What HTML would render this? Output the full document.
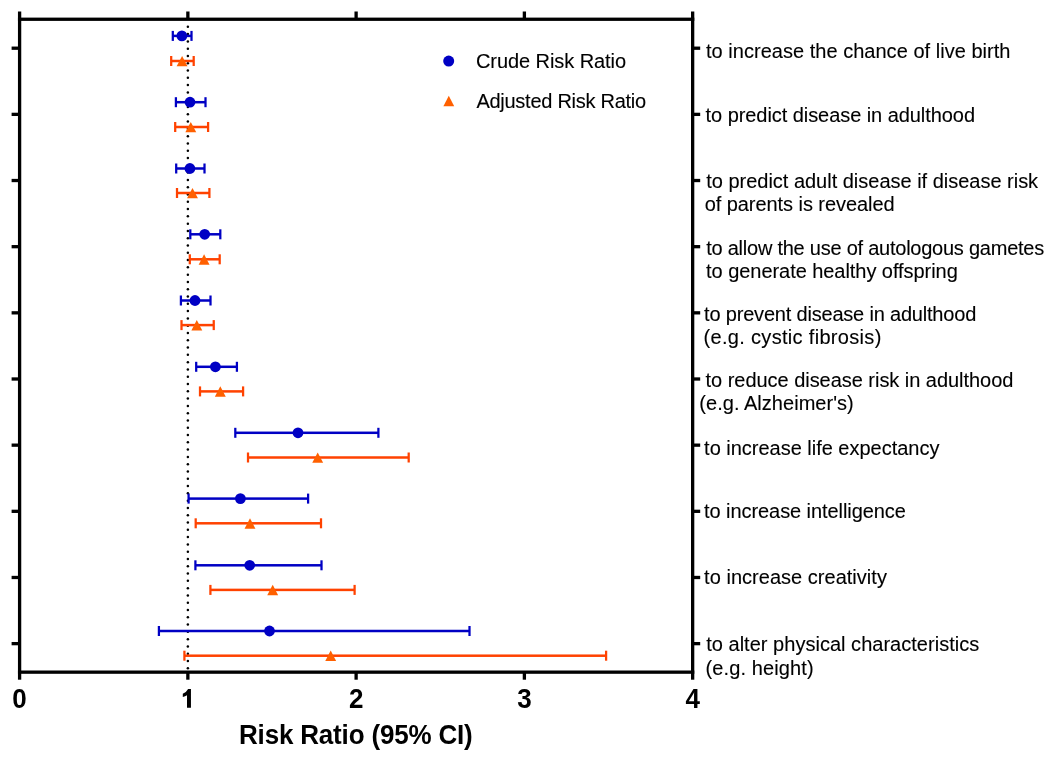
<!DOCTYPE html>
<html><head><meta charset="utf-8"><style>
html,body{margin:0;padding:0;background:#fff;width:1050px;height:760px;overflow:hidden}
svg{display:block;will-change:transform}
text{font-family:"Liberation Sans", sans-serif;stroke:#000;stroke-width:0.12px}
text[font-weight=bold]{stroke-width:0}
</style></head><body>
<svg width="1050" height="760" viewBox="0 0 1050 760"><rect x="17.95" y="11.5" width="3.3" height="668.2" fill="#000"/>
<rect x="691" y="11.5" width="3.3" height="668.2" fill="#000"/>
<rect x="17.95" y="17.6" width="676.35" height="3.3" fill="#000"/>
<rect x="17.95" y="670.5" width="676.35" height="3.3" fill="#000"/>
<rect x="186.21" y="11.5" width="3.3" height="6.5" fill="#000"/>
<rect x="186.21" y="673" width="3.3" height="6.7" fill="#000"/>
<rect x="354.47" y="11.5" width="3.3" height="6.5" fill="#000"/>
<rect x="354.47" y="673" width="3.3" height="6.7" fill="#000"/>
<rect x="522.73" y="11.5" width="3.3" height="6.5" fill="#000"/>
<rect x="522.73" y="673" width="3.3" height="6.7" fill="#000"/>
<rect x="11.6" y="46.55" width="7" height="3.3" fill="#000"/>
<rect x="693" y="46.55" width="7.2" height="3.3" fill="#000"/>
<rect x="11.6" y="112.71" width="7" height="3.3" fill="#000"/>
<rect x="693" y="112.71" width="7.2" height="3.3" fill="#000"/>
<rect x="11.6" y="178.87" width="7" height="3.3" fill="#000"/>
<rect x="693" y="178.87" width="7.2" height="3.3" fill="#000"/>
<rect x="11.6" y="245.03" width="7" height="3.3" fill="#000"/>
<rect x="693" y="245.03" width="7.2" height="3.3" fill="#000"/>
<rect x="11.6" y="311.19" width="7" height="3.3" fill="#000"/>
<rect x="693" y="311.19" width="7.2" height="3.3" fill="#000"/>
<rect x="11.6" y="377.35" width="7" height="3.3" fill="#000"/>
<rect x="693" y="377.35" width="7.2" height="3.3" fill="#000"/>
<rect x="11.6" y="443.51" width="7" height="3.3" fill="#000"/>
<rect x="693" y="443.51" width="7.2" height="3.3" fill="#000"/>
<rect x="11.6" y="509.67" width="7" height="3.3" fill="#000"/>
<rect x="693" y="509.67" width="7.2" height="3.3" fill="#000"/>
<rect x="11.6" y="575.83" width="7" height="3.3" fill="#000"/>
<rect x="693" y="575.83" width="7.2" height="3.3" fill="#000"/>
<rect x="11.6" y="641.99" width="7" height="3.3" fill="#000"/>
<rect x="693" y="641.99" width="7.2" height="3.3" fill="#000"/>
<g fill="#000"><circle cx="187.86" cy="26.80" r="1.25"/><circle cx="187.86" cy="34.09" r="1.25"/><circle cx="187.86" cy="41.38" r="1.25"/><circle cx="187.86" cy="48.67" r="1.25"/><circle cx="187.86" cy="55.96" r="1.25"/><circle cx="187.86" cy="63.25" r="1.25"/><circle cx="187.86" cy="70.54" r="1.25"/><circle cx="187.86" cy="77.83" r="1.25"/><circle cx="187.86" cy="85.12" r="1.25"/><circle cx="187.86" cy="92.41" r="1.25"/><circle cx="187.86" cy="99.70" r="1.25"/><circle cx="187.86" cy="106.99" r="1.25"/><circle cx="187.86" cy="114.28" r="1.25"/><circle cx="187.86" cy="121.57" r="1.25"/><circle cx="187.86" cy="128.86" r="1.25"/><circle cx="187.86" cy="136.15" r="1.25"/><circle cx="187.86" cy="143.44" r="1.25"/><circle cx="187.86" cy="150.73" r="1.25"/><circle cx="187.86" cy="158.02" r="1.25"/><circle cx="187.86" cy="165.31" r="1.25"/><circle cx="187.86" cy="172.60" r="1.25"/><circle cx="187.86" cy="179.89" r="1.25"/><circle cx="187.86" cy="187.18" r="1.25"/><circle cx="187.86" cy="194.47" r="1.25"/><circle cx="187.86" cy="201.76" r="1.25"/><circle cx="187.86" cy="209.05" r="1.25"/><circle cx="187.86" cy="216.34" r="1.25"/><circle cx="187.86" cy="223.63" r="1.25"/><circle cx="187.86" cy="230.92" r="1.25"/><circle cx="187.86" cy="238.21" r="1.25"/><circle cx="187.86" cy="245.50" r="1.25"/><circle cx="187.86" cy="252.79" r="1.25"/><circle cx="187.86" cy="260.08" r="1.25"/><circle cx="187.86" cy="267.37" r="1.25"/><circle cx="187.86" cy="274.66" r="1.25"/><circle cx="187.86" cy="281.95" r="1.25"/><circle cx="187.86" cy="289.24" r="1.25"/><circle cx="187.86" cy="296.53" r="1.25"/><circle cx="187.86" cy="303.82" r="1.25"/><circle cx="187.86" cy="311.11" r="1.25"/><circle cx="187.86" cy="318.40" r="1.25"/><circle cx="187.86" cy="325.69" r="1.25"/><circle cx="187.86" cy="332.98" r="1.25"/><circle cx="187.86" cy="340.27" r="1.25"/><circle cx="187.86" cy="347.56" r="1.25"/><circle cx="187.86" cy="354.85" r="1.25"/><circle cx="187.86" cy="362.14" r="1.25"/><circle cx="187.86" cy="369.43" r="1.25"/><circle cx="187.86" cy="376.72" r="1.25"/><circle cx="187.86" cy="384.01" r="1.25"/><circle cx="187.86" cy="391.30" r="1.25"/><circle cx="187.86" cy="398.59" r="1.25"/><circle cx="187.86" cy="405.88" r="1.25"/><circle cx="187.86" cy="413.17" r="1.25"/><circle cx="187.86" cy="420.46" r="1.25"/><circle cx="187.86" cy="427.75" r="1.25"/><circle cx="187.86" cy="435.04" r="1.25"/><circle cx="187.86" cy="442.33" r="1.25"/><circle cx="187.86" cy="449.62" r="1.25"/><circle cx="187.86" cy="456.91" r="1.25"/><circle cx="187.86" cy="464.20" r="1.25"/><circle cx="187.86" cy="471.49" r="1.25"/><circle cx="187.86" cy="478.78" r="1.25"/><circle cx="187.86" cy="486.07" r="1.25"/><circle cx="187.86" cy="493.36" r="1.25"/><circle cx="187.86" cy="500.65" r="1.25"/><circle cx="187.86" cy="507.94" r="1.25"/><circle cx="187.86" cy="515.23" r="1.25"/><circle cx="187.86" cy="522.52" r="1.25"/><circle cx="187.86" cy="529.81" r="1.25"/><circle cx="187.86" cy="537.10" r="1.25"/><circle cx="187.86" cy="544.39" r="1.25"/><circle cx="187.86" cy="551.68" r="1.25"/><circle cx="187.86" cy="558.97" r="1.25"/><circle cx="187.86" cy="566.26" r="1.25"/><circle cx="187.86" cy="573.55" r="1.25"/><circle cx="187.86" cy="580.84" r="1.25"/><circle cx="187.86" cy="588.13" r="1.25"/><circle cx="187.86" cy="595.42" r="1.25"/><circle cx="187.86" cy="602.71" r="1.25"/><circle cx="187.86" cy="610.00" r="1.25"/><circle cx="187.86" cy="617.29" r="1.25"/><circle cx="187.86" cy="624.58" r="1.25"/><circle cx="187.86" cy="631.87" r="1.25"/><circle cx="187.86" cy="639.16" r="1.25"/><circle cx="187.86" cy="646.45" r="1.25"/><circle cx="187.86" cy="653.74" r="1.25"/><circle cx="187.86" cy="661.03" r="1.25"/><circle cx="187.86" cy="668.32" r="1.25"/></g>
<rect x="172.80" y="34.65" width="18.70" height="2.5" fill="#0000c4"/>
<rect x="171.68" y="30.90" width="2.25" height="10" fill="#0000c4"/>
<rect x="190.38" y="30.90" width="2.25" height="10" fill="#0000c4"/>
<rect x="171.20" y="59.75" width="22.50" height="2.5" fill="#ff4200"/>
<rect x="170.07" y="56.00" width="2.25" height="10" fill="#ff4200"/>
<rect x="192.57" y="56.00" width="2.25" height="10" fill="#ff4200"/>
<rect x="175.90" y="100.95" width="29.60" height="2.5" fill="#0000c4"/>
<rect x="174.78" y="97.20" width="2.25" height="10" fill="#0000c4"/>
<rect x="204.38" y="97.20" width="2.25" height="10" fill="#0000c4"/>
<rect x="175.20" y="125.75" width="32.90" height="2.5" fill="#ff4200"/>
<rect x="174.07" y="122.00" width="2.25" height="10" fill="#ff4200"/>
<rect x="206.97" y="122.00" width="2.25" height="10" fill="#ff4200"/>
<rect x="176.20" y="167.25" width="28.30" height="2.5" fill="#0000c4"/>
<rect x="175.07" y="163.50" width="2.25" height="10" fill="#0000c4"/>
<rect x="203.38" y="163.50" width="2.25" height="10" fill="#0000c4"/>
<rect x="177.00" y="191.75" width="32.40" height="2.5" fill="#ff4200"/>
<rect x="175.88" y="188.00" width="2.25" height="10" fill="#ff4200"/>
<rect x="208.28" y="188.00" width="2.25" height="10" fill="#ff4200"/>
<rect x="190.30" y="233.05" width="30.00" height="2.5" fill="#0000c4"/>
<rect x="189.18" y="229.30" width="2.25" height="10" fill="#0000c4"/>
<rect x="219.18" y="229.30" width="2.25" height="10" fill="#0000c4"/>
<rect x="189.80" y="258.05" width="29.90" height="2.5" fill="#ff4200"/>
<rect x="188.68" y="254.30" width="2.25" height="10" fill="#ff4200"/>
<rect x="218.57" y="254.30" width="2.25" height="10" fill="#ff4200"/>
<rect x="180.90" y="299.25" width="29.60" height="2.5" fill="#0000c4"/>
<rect x="179.78" y="295.50" width="2.25" height="10" fill="#0000c4"/>
<rect x="209.38" y="295.50" width="2.25" height="10" fill="#0000c4"/>
<rect x="181.50" y="323.85" width="32.25" height="2.5" fill="#ff4200"/>
<rect x="180.38" y="320.10" width="2.25" height="10" fill="#ff4200"/>
<rect x="212.62" y="320.10" width="2.25" height="10" fill="#ff4200"/>
<rect x="196.20" y="365.55" width="40.70" height="2.5" fill="#0000c4"/>
<rect x="195.07" y="361.80" width="2.25" height="10" fill="#0000c4"/>
<rect x="235.78" y="361.80" width="2.25" height="10" fill="#0000c4"/>
<rect x="200.00" y="390.15" width="43.10" height="2.5" fill="#ff4200"/>
<rect x="198.88" y="386.40" width="2.25" height="10" fill="#ff4200"/>
<rect x="241.97" y="386.40" width="2.25" height="10" fill="#ff4200"/>
<rect x="235.30" y="431.55" width="143.10" height="2.5" fill="#0000c4"/>
<rect x="234.18" y="427.80" width="2.25" height="10" fill="#0000c4"/>
<rect x="377.27" y="427.80" width="2.25" height="10" fill="#0000c4"/>
<rect x="248.00" y="456.25" width="160.70" height="2.5" fill="#ff4200"/>
<rect x="246.88" y="452.50" width="2.25" height="10" fill="#ff4200"/>
<rect x="407.57" y="452.50" width="2.25" height="10" fill="#ff4200"/>
<rect x="188.60" y="497.35" width="119.50" height="2.5" fill="#0000c4"/>
<rect x="187.47" y="493.60" width="2.25" height="10" fill="#0000c4"/>
<rect x="306.98" y="493.60" width="2.25" height="10" fill="#0000c4"/>
<rect x="195.70" y="522.05" width="125.30" height="2.5" fill="#ff4200"/>
<rect x="194.57" y="518.30" width="2.25" height="10" fill="#ff4200"/>
<rect x="319.88" y="518.30" width="2.25" height="10" fill="#ff4200"/>
<rect x="195.40" y="564.05" width="126.10" height="2.5" fill="#0000c4"/>
<rect x="194.28" y="560.30" width="2.25" height="10" fill="#0000c4"/>
<rect x="320.38" y="560.30" width="2.25" height="10" fill="#0000c4"/>
<rect x="210.40" y="588.65" width="144.20" height="2.5" fill="#ff4200"/>
<rect x="209.28" y="584.90" width="2.25" height="10" fill="#ff4200"/>
<rect x="353.48" y="584.90" width="2.25" height="10" fill="#ff4200"/>
<rect x="158.90" y="629.75" width="310.60" height="2.5" fill="#0000c4"/>
<rect x="157.78" y="626.00" width="2.25" height="10" fill="#0000c4"/>
<rect x="468.38" y="626.00" width="2.25" height="10" fill="#0000c4"/>
<rect x="184.40" y="654.45" width="421.70" height="2.5" fill="#ff4200"/>
<rect x="183.28" y="650.70" width="2.25" height="10" fill="#ff4200"/>
<rect x="604.98" y="650.70" width="2.25" height="10" fill="#ff4200"/>
<circle cx="181.90" cy="35.90" r="5.4" fill="#0000c4"/>
<path d="M182.10 55.90L187.55 66.35L176.65 66.35Z" fill="#ff6000"/>
<circle cx="190.00" cy="102.20" r="5.4" fill="#0000c4"/>
<path d="M190.80 121.90L196.25 132.35L185.35 132.35Z" fill="#ff6000"/>
<circle cx="189.90" cy="168.50" r="5.4" fill="#0000c4"/>
<path d="M192.50 187.90L197.95 198.35L187.05 198.35Z" fill="#ff6000"/>
<circle cx="204.70" cy="234.30" r="5.4" fill="#0000c4"/>
<path d="M204.10 254.20L209.55 264.65L198.65 264.65Z" fill="#ff6000"/>
<circle cx="195.00" cy="300.50" r="5.4" fill="#0000c4"/>
<path d="M196.80 320.00L202.25 330.45L191.35 330.45Z" fill="#ff6000"/>
<circle cx="215.40" cy="366.80" r="5.4" fill="#0000c4"/>
<path d="M220.30 386.30L225.75 396.75L214.85 396.75Z" fill="#ff6000"/>
<circle cx="298.00" cy="432.80" r="5.4" fill="#0000c4"/>
<path d="M317.70 452.40L323.15 462.85L312.25 462.85Z" fill="#ff6000"/>
<circle cx="240.40" cy="498.60" r="5.4" fill="#0000c4"/>
<path d="M250.00 518.20L255.45 528.65L244.55 528.65Z" fill="#ff6000"/>
<circle cx="249.70" cy="565.30" r="5.4" fill="#0000c4"/>
<path d="M272.70 584.80L278.15 595.25L267.25 595.25Z" fill="#ff6000"/>
<circle cx="269.50" cy="631.00" r="5.4" fill="#0000c4"/>
<path d="M330.70 650.60L336.15 661.05L325.25 661.05Z" fill="#ff6000"/>
<circle cx="448.7" cy="61.1" r="5.5" fill="#0000c4"/>
<path d="M448.8 95.7L454.2 106.3L443.4 106.3Z" fill="#ff6000"/>
<text x="475.90" y="68.10" font-family="Liberation Sans, sans-serif" font-size="20" textLength="150.17" lengthAdjust="spacing">Crude Risk Ratio</text>
<text x="476.40" y="107.90" font-family="Liberation Sans, sans-serif" font-size="20" textLength="169.73" lengthAdjust="spacing">Adjusted Risk Ratio</text>
<text x="706.00" y="57.55" font-family="Liberation Sans, sans-serif" font-size="20" textLength="304.42" lengthAdjust="spacing">to increase the chance of live birth</text>
<text x="705.60" y="121.80" font-family="Liberation Sans, sans-serif" font-size="20" textLength="269.41" lengthAdjust="spacing">to predict disease in adulthood</text>
<text x="706.20" y="188.40" font-family="Liberation Sans, sans-serif" font-size="20" textLength="331.91" lengthAdjust="spacing">to predict adult disease if disease risk</text>
<text x="704.70" y="211.20" font-family="Liberation Sans, sans-serif" font-size="20" textLength="189.93" lengthAdjust="spacing">of parents is revealed</text>
<text x="706.20" y="255.10" font-family="Liberation Sans, sans-serif" font-size="20" textLength="338.01" lengthAdjust="spacing">to allow the use of autologous gametes</text>
<text x="706.10" y="278.00" font-family="Liberation Sans, sans-serif" font-size="20" textLength="251.66" lengthAdjust="spacing">to generate healthy offspring</text>
<text x="704.10" y="320.70" font-family="Liberation Sans, sans-serif" font-size="20" textLength="272.18" lengthAdjust="spacing">to prevent disease in adulthood</text>
<text x="703.50" y="343.50" font-family="Liberation Sans, sans-serif" font-size="20" textLength="177.86" lengthAdjust="spacing">(e.g. cystic fibrosis)</text>
<text x="705.60" y="386.80" font-family="Liberation Sans, sans-serif" font-size="20" textLength="307.79" lengthAdjust="spacing">to reduce disease risk in adulthood</text>
<text x="699.30" y="409.70" font-family="Liberation Sans, sans-serif" font-size="20" textLength="154.48" lengthAdjust="spacing">(e.g. Alzheimer&#39;s)</text>
<text x="704.10" y="455.20" font-family="Liberation Sans, sans-serif" font-size="20" textLength="235.29" lengthAdjust="spacing">to increase life expectancy</text>
<text x="704.10" y="517.90" font-family="Liberation Sans, sans-serif" font-size="20" textLength="201.77" lengthAdjust="spacing">to increase intelligence</text>
<text x="704.10" y="584.10" font-family="Liberation Sans, sans-serif" font-size="20" textLength="182.80" lengthAdjust="spacing">to increase creativity</text>
<text x="706.20" y="651.30" font-family="Liberation Sans, sans-serif" font-size="20" textLength="273.03" lengthAdjust="spacing">to alter physical characteristics</text>
<text x="705.60" y="674.60" font-family="Liberation Sans, sans-serif" font-size="20" textLength="108.03" lengthAdjust="spacing">(e.g. height)</text>
<text transform="translate(19.60,707.8) scale(1,1.04)" x="0" y="0" font-family="Liberation Sans, sans-serif" font-size="26" font-weight="bold" text-anchor="middle">0</text>
<path d="M188.1 689 L190.95 689 L190.95 707.8 L187 707.8 L187 695.3 Q185.2 696.3 182.8 697 L182.8 693.7 Q186.6 692.1 188.1 689 Z" fill="#000"/>
<text transform="translate(356.12,707.8) scale(1,1.04)" x="0" y="0" font-family="Liberation Sans, sans-serif" font-size="26" font-weight="bold" text-anchor="middle">2</text>
<text transform="translate(524.38,707.8) scale(1,1.04)" x="0" y="0" font-family="Liberation Sans, sans-serif" font-size="26" font-weight="bold" text-anchor="middle">3</text>
<text transform="translate(692.64,707.8) scale(1,1.04)" x="0" y="0" font-family="Liberation Sans, sans-serif" font-size="26" font-weight="bold" text-anchor="middle">4</text>
<text transform="translate(239,743.9) scale(1,1.04)" x="0" y="0" font-family="Liberation Sans, sans-serif" font-size="26" font-weight="bold" textLength="233.75" lengthAdjust="spacing">Risk Ratio (95% CI)</text></svg>
</body></html>
